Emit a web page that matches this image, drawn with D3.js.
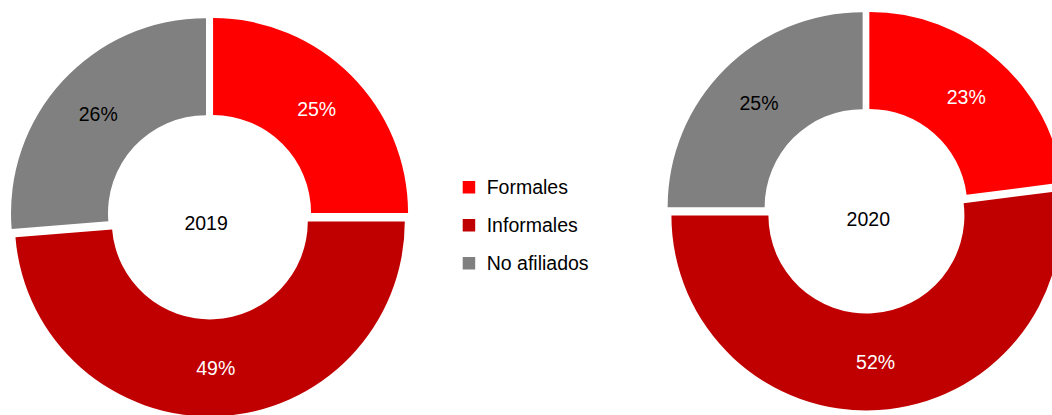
<!DOCTYPE html>
<html><head><meta charset="utf-8">
<script src="https://cdn.jsdelivr.net/npm/d3@7"></script>
<style>html,body{margin:0;padding:0;background:#fff;}svg{display:block;font-family:"Liberation Sans",Arial,sans-serif;}</style>
</head><body>
<svg id="chart" width="1052" height="415"></svg>
<script>
const categories = ["Formales", "Informales", "No afiliados"];
const colors = ["#FF0000", "#C00000", "#808080"];
const labelColors = ["#FFFFFF", "#FFFFFF", "#000000"];
const years = ["2019", "2020"];
const values2019 = [25.0, 48.7, 26.3];
const values2020 = [23.0, 52.0, 25.0];

const svg = d3.select("#chart");
const R = 195, r0 = 98, explode = 4.9, fontSize = 19.5;

const charts = [
  {year: years[0], values: values2019, cx: 209.6, cy: 216.5, yearDx: -3.5, yearDy: 6.5},
  {year: years[1], values: values2020, cx: 866.1, cy: 210.6, yearDx: 2.2, yearDy: 8.4}
];

const pie = d3.pie().sort(null).value(d => d);
const arc = d3.arc().innerRadius(r0).outerRadius(R);
const labelArc = d3.arc().innerRadius((R + r0) / 2).outerRadius((R + r0) / 2);

charts.forEach(c => {
  const g = svg.append("g").attr("transform", `translate(${c.cx},${c.cy})`);
  const arcs = pie(c.values);
  const slices = g.selectAll("g.slice").data(arcs).join("g")
    .attr("class", "slice")
    .attr("transform", d => {
      const a = (d.startAngle + d.endAngle) / 2;
      return `translate(${explode * Math.sin(a)},${-explode * Math.cos(a)})`;
    });
  slices.append("path").attr("d", arc).attr("fill", (d, i) => colors[i]);
  slices.append("text")
    .attr("transform", d => `translate(${labelArc.centroid(d)})`)
    .attr("text-anchor", "middle")
    .attr("dy", "0.35em")
    .attr("font-size", fontSize)
    .attr("fill", (d, i) => labelColors[i])
    .text(d => Math.round(d.data) + "%");
  g.append("text")
    .attr("x", c.yearDx).attr("y", c.yearDy)
    .attr("text-anchor", "middle").attr("dy", "0.35em")
    .attr("font-size", fontSize).attr("fill", "#000")
    .text(c.year);
});

const legend = svg.append("g").attr("transform", "translate(462.7,187.3)");
const ly = d3.scalePoint().domain(categories).range([0, 76]);
categories.forEach((name, i) => {
  legend.append("rect").attr("x", 0).attr("y", ly(name) - 6.3)
    .attr("width", 12.5).attr("height", 12.5).attr("fill", colors[i]);
  legend.append("text").attr("x", 24).attr("y", ly(name)).attr("dy", "0.35em")
    .attr("font-size", fontSize).attr("fill", "#000").text(name);
});
</script>
</body></html>
